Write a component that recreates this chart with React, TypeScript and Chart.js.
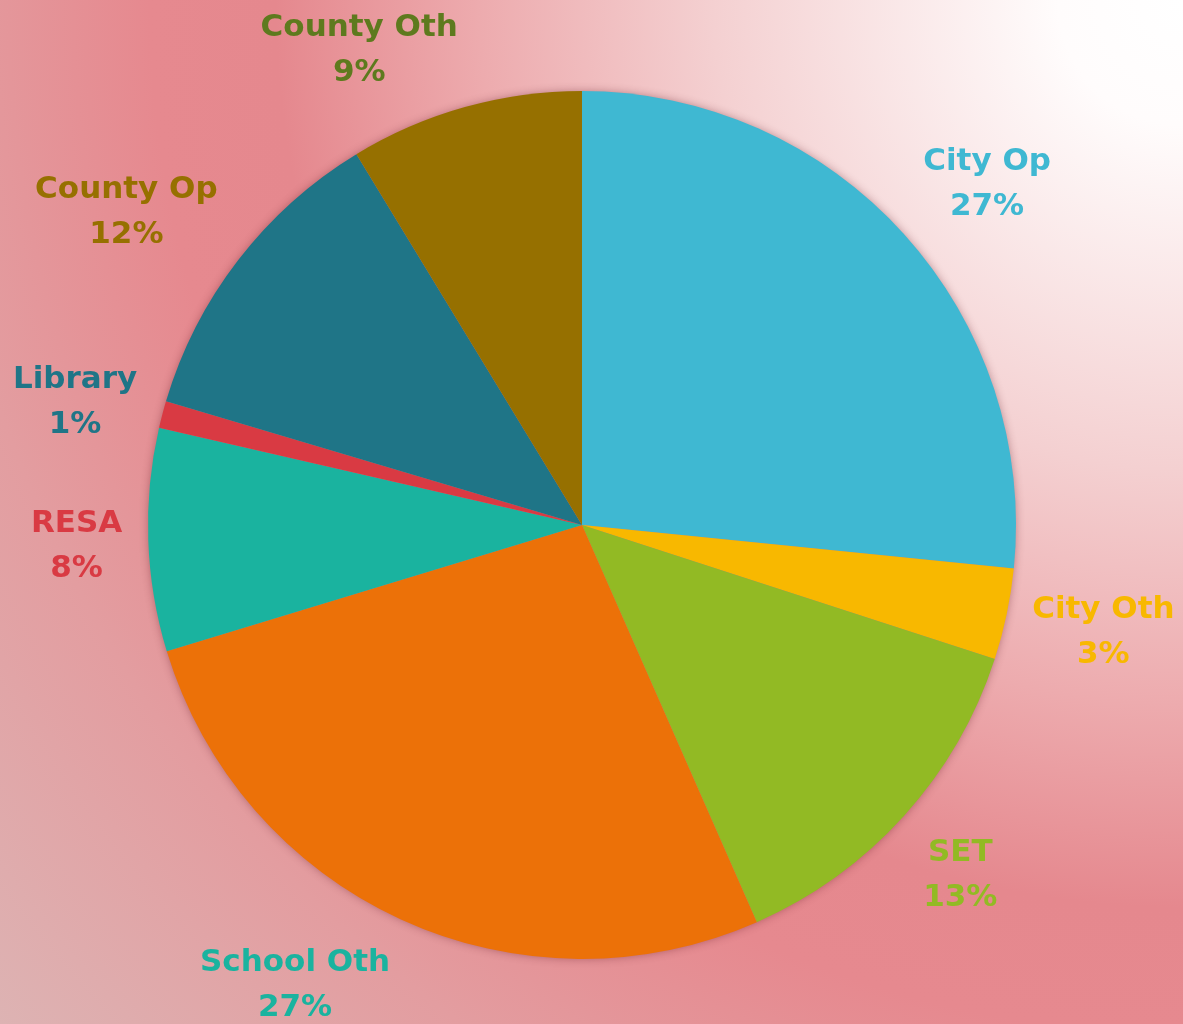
import React, { useEffect, useRef } from "react";
import { Chart, registerables } from "chart.js";

Chart.register(...registerables);

const categories = ["City Op", "City Oth", "SET", "School Oth", "RESA", "Library", "County Op", "County Oth"];
const shares = [26.6, 3.4, 13.4, 26.9, 8.3, 1.0, 11.7, 8.7];
const sliceColors = ["#3FB8D2", "#F8B800", "#92BA24", "#EC7108", "#1AB39F", "#D93A43", "#1F7587", "#967000"];
const labelColors = ["#3FB8D2", "#F8B800", "#92BA24", "#1AB39F", "#D93A43", "#1F7587", "#967000", "#5E7A1E"];

const W = 1183;
const H = 1024;
const FONT = 'bold 31px "DejaVu Sans"';
const LINE_GAP = 45;
const BOX_H = 74;
const TEXT_SHIFT = 5;
const LABEL_GAP = 26;

const backgroundPlugin = {
  id: "bg",
  beforeDraw(chart: any) {
    const ctx = chart.ctx as CanvasRenderingContext2D;
    const w = chart.width;
    const h = chart.height;
    const rad = Math.hypot(w, h);
    const g = ctx.createRadialGradient(w, 0, 0, w, 0, rad);
    g.addColorStop(0, "#FFFFFF");
    g.addColorStop(0.08, "#FFFCFC");
    g.addColorStop(0.3, "#F4D0D1");
    g.addColorStop(0.45, "#EDABAE");
    g.addColorStop(0.58, "#E5888E");
    g.addColorStop(0.66, "#E6898F");
    g.addColorStop(0.8, "#E39DA0");
    g.addColorStop(1, "#DDB3B3");
    ctx.save();
    ctx.fillStyle = g;
    ctx.fillRect(0, 0, w, h);
    ctx.restore();
  },
};

const shadowPlugin = {
  id: "pieShadow",
  beforeDatasetsDraw(chart: any) {
    const meta = chart.getDatasetMeta(0);
    if (!meta || !meta.data.length) return;
    const p = meta.data[0].getProps(["x", "y", "outerRadius"], true);
    const ctx = chart.ctx as CanvasRenderingContext2D;
    ctx.save();
    ctx.shadowColor = "rgba(90,20,30,0.45)";
    ctx.shadowBlur = 10;
    ctx.fillStyle = "#c08080";
    ctx.beginPath();
    ctx.arc(p.x, p.y, p.outerRadius - 1, 0, Math.PI * 2);
    ctx.fill();
    ctx.restore();
  },
};

const labelPlugin = {
  id: "outLabels",
  afterDatasetsDraw(chart: any) {
    const meta = chart.getDatasetMeta(0);
    const ctx = chart.ctx as CanvasRenderingContext2D;
    const data = chart.data.datasets[0].data as number[];
    const total = data.reduce((a, b) => a + b, 0);
    ctx.save();
    ctx.font = FONT;
    ctx.textAlign = "center";
    ctx.textBaseline = "middle";
    meta.data.forEach((arc: any, i: number) => {
      const p = arc.getProps(["x", "y", "startAngle", "endAngle", "outerRadius"], true);
      const mid = (p.startAngle + p.endAngle) / 2;
      const dx = Math.cos(mid);
      const dy = Math.sin(mid);
      const name = chart.data.labels[i] as string;
      const pct = Math.round((data[i] / total) * 100) + "%";
      const bw = Math.max(ctx.measureText(name).width, ctx.measureText(pct).width);
      const ax = p.x + dx * (p.outerRadius + LABEL_GAP);
      const ay = p.y + dy * (p.outerRadius + LABEL_GAP);
      const fx = Math.min(1, Math.abs(dx) / 0.25);
      const fy = Math.min(1, Math.pow(Math.abs(dy) / 0.6, 1.5));
      const cx = ax + Math.sign(dx) * fx * bw / 2;
      const cy = ay + Math.sign(dy) * fy * BOX_H / 2 + TEXT_SHIFT;
      ctx.fillStyle = labelColors[i];
      ctx.fillText(name, cx, cy - LINE_GAP / 2);
      ctx.fillText(pct, cx, cy + LINE_GAP / 2);
    });
    ctx.restore();
  },
};

export default function App() {
  const ref = useRef<HTMLCanvasElement | null>(null);
  useEffect(() => {
    if (!ref.current) return;
    const chart = new Chart(ref.current, {
      type: "pie",
      data: {
        labels: categories,
        datasets: [
          {
            data: shares,
            backgroundColor: sliceColors,
            borderWidth: 0,
          },
        ],
      },
      options: {
        responsive: false,
        animation: false,
        devicePixelRatio: 1,
        layout: { padding: { left: 148, right: 167, top: 91, bottom: 65 } },
        plugins: {
          legend: { display: false },
          tooltip: { enabled: false },
        },
      },
      plugins: [backgroundPlugin, shadowPlugin, labelPlugin],
    });
    return () => chart.destroy();
  }, []);
  return (
    <div style={{ position: "fixed", left: 0, top: 0, width: W, height: H, overflow: "hidden" }}>
      <canvas ref={ref} width={W} height={H} style={{ display: "block", width: W, height: H }} />
    </div>
  );
}
